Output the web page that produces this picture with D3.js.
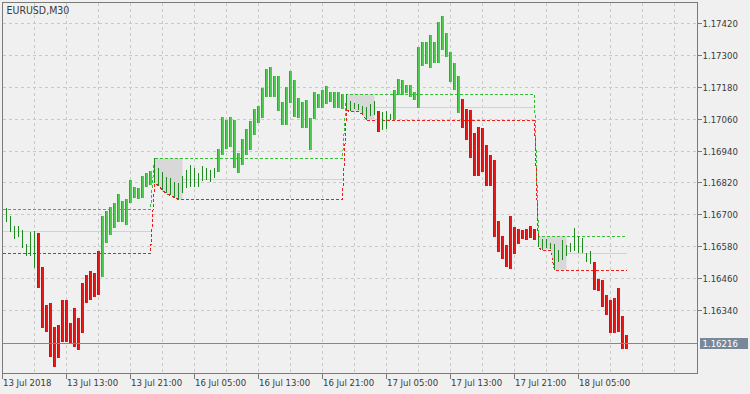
<!DOCTYPE html>
<html><head><meta charset="utf-8">
<script src="https://cdn.jsdelivr.net/npm/d3@7"></script>
<style>html,body{margin:0;padding:0;background:#f0f0f0;}svg{display:block;}</style>
</head><body><svg id="c" width="750" height="394"></svg>
<script>
const title = "EURUSD,M30";
const firstBar = 1;
const highs = [1.16725,1.16694,1.16657,1.16657,1.16640,1.16587,1.16634,1.16637,1.16628,1.16502,
1.16358,1.16364,1.16276,1.16282,1.16377,1.16377,1.16289,1.16345,1.16308,1.16440,
1.16471,1.16486,1.16477,1.16561,1.16693,1.16712,1.16728,1.16741,1.16775,1.16750,
1.16756,1.16829,1.16804,1.16798,1.16844,1.16857,1.16864,1.16911,1.16873,1.16860,
1.16842,1.16836,1.16823,1.16817,1.16844,1.16867,1.16886,1.16873,1.16854,1.16882,
1.16873,1.16867,1.16873,1.16946,1.17068,1.17055,1.17068,1.17055,1.16930,1.16984,
1.17021,1.17053,1.17097,1.17108,1.17175,1.17249,1.17254,1.17223,1.17220,1.17124,
1.17178,1.17242,1.17206,1.17137,1.17125,1.17131,1.17062,1.17162,1.17153,1.17169,
1.17184,1.17162,1.17162,1.17162,1.17153,1.17152,1.17127,1.17118,1.17117,1.17110,
1.17106,1.17116,1.17127,1.17089,1.17087,1.17091,1.17078,1.17169,1.17211,1.17208,
1.17187,1.17187,1.17161,1.17332,1.17351,1.17348,1.17376,1.17351,1.17426,1.17448,
1.17382,1.17313,1.17269,1.17220,1.17133,1.17095,1.17093,1.17005,1.17029,1.17025,
1.16960,1.16923,1.16904,1.16676,1.16618,1.16584,1.16693,1.16653,1.16646,1.16642,
1.16644,1.16657,1.16646,1.16617,1.16608,1.16608,1.16593,1.16589,1.16564,1.16602,
1.16584,1.16591,1.16649,1.16618,1.16609,1.16555,1.16562,1.16520,1.16457,1.16452,
1.16397,1.16375,1.16385,1.16420,1.16316,1.16243];
const lows = [1.16672,1.16634,1.16605,1.16615,1.16571,1.16544,1.16544,1.16496,1.16421,1.16270,
1.16257,1.16163,1.16125,1.16157,1.16219,1.16219,1.16213,1.16200,1.16188,1.16251,
1.16364,1.16377,1.16389,1.16395,1.16464,1.16590,1.16622,1.16647,1.16672,1.16672,
1.16659,1.16741,1.16760,1.16756,1.16760,1.16804,1.16810,1.16817,1.16810,1.16791,
1.16779,1.16773,1.16766,1.16756,1.16779,1.16798,1.16804,1.16804,1.16804,1.16825,
1.16829,1.16822,1.16836,1.16860,1.16923,1.16946,1.16952,1.16873,1.16854,1.16886,
1.16922,1.16942,1.16999,1.17043,1.17062,1.17143,1.17143,1.17143,1.17089,1.17036,
1.17036,1.17119,1.17065,1.17062,1.17027,1.17025,1.16942,1.17059,1.17101,1.17100,
1.17114,1.17124,1.17100,1.17102,1.17097,1.17093,1.17089,1.17097,1.17093,1.17078,
1.17057,1.17070,1.17074,1.17011,1.17018,1.17021,1.17055,1.17055,1.17150,1.17150,
1.17156,1.17143,1.17131,1.17102,1.17259,1.17267,1.17250,1.17270,1.17269,1.17319,
1.17294,1.17200,1.17169,1.17081,1.17024,1.16980,1.16911,1.16844,1.16844,1.16859,
1.16806,1.16806,1.16615,1.16559,1.16532,1.16502,1.16495,1.16550,1.16588,1.16607,
1.16603,1.16610,1.16603,1.16576,1.16567,1.16573,1.16570,1.16490,1.16520,1.16526,
1.16542,1.16558,1.16561,1.16552,1.16555,1.16518,1.16514,1.16413,1.16410,1.16350,
1.16319,1.16253,1.16251,1.16256,1.16193,1.16193];
// trend state per bar: n = neutral, g = up, r = down
const trendRuns = [["n",8],["r",16],["g",13],["n",16],["g",32],["n",8],["r",1],["n",3],["g",17],["r",19],["n",14],["r",9]];
const boxStarts = [38, 86, 134];
const boxLength = 8;
const prevUpper = 1.16720, prevLower = 1.16554;
const lastPrice = 1.16216;
const yTicks = [1.17420,1.17300,1.17180,1.17060,1.16940,1.16820,1.16700,1.16580,1.16460,1.16340];
const xTickIdx = [0,16,32,48,64,80,96,112,128,144];
const xTickLabels = ["13 Jul 2018","13 Jul 13:00","13 Jul 21:00","16 Jul 05:00","16 Jul 13:00","16 Jul 21:00","17 Jul 05:00","17 Jul 13:00","17 Jul 21:00","18 Jul 05:00"];

const trend = trendRuns.flatMap(([s,n]) => Array(n).fill(s));
const bars = highs.map((h,k) => ({i: firstBar+k, h, l: lows[k], s: trend[k]}));
const lastIdx = firstBar + highs.length - 1;

const svg = d3.select("#c");
const P = {l:2.5, r:697.5, t:2.5, b:373.5};
const x = d3.scaleLinear().domain([0,1]).range([2.5,6.5]);
const y = d3.scaleLinear().domain([1.16340,1.17420]).range([309.7,23.3]);
const font = "'DejaVu Sans Condensed','DejaVu Sans',sans-serif";

svg.append("rect").attr("width",750).attr("height",394).attr("fill","#f0f0f0");
svg.append("defs").append("clipPath").attr("id","clip").append("rect")
  .attr("x",P.l+0.5).attr("y",P.t+0.5).attr("width",P.r-P.l-1).attr("height",P.b-P.t-1);

// grid
const grid = svg.append("g").attr("stroke","#c9c9c9").attr("stroke-dasharray","3,3").attr("shape-rendering","crispEdges");
yTicks.forEach(v => { const yy = Math.round(y(v))+0.5;
  grid.append("line").attr("x1",P.l).attr("x2",P.r).attr("y1",yy).attr("y2",yy); });
d3.range(8,176,8).forEach(i => { const xx = Math.floor(x(i))+0.5;
  if (xx < P.r) grid.append("line").attr("x1",xx).attr("x2",xx).attr("y1",P.t).attr("y2",P.b); });

const g = svg.append("g").attr("clip-path","url(#clip)");

// indicator levels
const hi = new Map(bars.map(b=>[b.i,b.h])), lo = new Map(bars.map(b=>[b.i,b.l]));
const level = [];
for (let i=0;i<=lastIdx;i++){
  let s = -1; boxStarts.forEach((b,k)=>{ if (i>=b) s=k; });
  if (s<0){ level.push({i,u:prevUpper,d:prevLower}); continue; }
  const b = boxStarts[s], e = Math.min(i, b+boxLength-1);
  const idx = d3.range(b, e+1);
  level.push({i, u:d3.max(idx,j=>hi.get(j)), d:d3.min(idx,j=>lo.get(j)), s});
}
// gray boxes
boxStarts.forEach(b => {
  const pts = level.filter(p => p.i>=b && p.i<=b+boxLength-1);
  const area = d3.area().x(p=>x(p.i)).y0(p=>y(p.d)).y1(p=>y(p.u));
  g.append("path").attr("d",area(pts)).attr("fill","#d8d8d8");
});
// mid lines
const segs = [[0,boxStarts[0]-1]].concat(boxStarts.map((b,k)=>[b+boxLength-1, k<boxStarts.length-1?boxStarts[k+1]-1:lastIdx]));
segs.forEach(([a,c]) => {
  const p = level[c]; const m = (p.u+p.d)/2;
  g.append("line").attr("x1",x(a)).attr("x2",x(c)).attr("y1",Math.round(y(m))+0.5).attr("y2",Math.round(y(m))+0.5)
   .attr("stroke","#d2d2d2").attr("shape-rendering","crispEdges");
});
const lineU = d3.line().x(p=>x(p.i)).y(p=>Math.round(y(p.u))+0.5);
const lineD = d3.line().x(p=>x(p.i)).y(p=>Math.round(y(p.d))+0.5);
g.append("path").attr("d",lineU(level)).attr("fill","none").attr("stroke","#33c033").attr("stroke-dasharray","3,2").attr("shape-rendering","crispEdges");
g.append("path").attr("d",lineD(level)).attr("fill","none").attr("stroke","#f01c1c").attr("stroke-dasharray","3,2").attr("shape-rendering","crispEdges");

// bars
const colors = {g:"#4ccc4c", r:"#e81818"};
const edge = {g:"#2fa82f", r:"#c41010", n:"#1f8a1f"};
bars.forEach(b => {
  const xc = Math.floor(x(b.i)); const y1 = Math.round(y(b.h)), y2 = Math.round(y(b.l));
  if (b.s !== "n") {
    g.append("rect").attr("x",xc-1).attr("width",3).attr("y",y1).attr("height",Math.max(1,y2-y1)).attr("fill",colors[b.s]);
    g.append("rect").attr("x",xc-1).attr("width",1).attr("y",y1).attr("height",Math.max(1,y2-y1)).attr("fill",edge[b.s]);
  } else {
    g.append("rect").attr("x",xc).attr("width",1).attr("y",y1).attr("height",Math.max(1,y2-y1)).attr("fill",edge.n);
  }
});

// price line
const py = Math.round(y(lastPrice))+0.5;
svg.append("line").attr("x1",P.l).attr("x2",P.r).attr("y1",py).attr("y2",py).attr("stroke","#7a8a99").attr("shape-rendering","crispEdges");

// border
svg.append("rect").attr("x",P.l).attr("y",P.t).attr("width",P.r-P.l).attr("height",P.b-P.t)
  .attr("fill","none").attr("stroke","#7a7a7a").attr("shape-rendering","crispEdges");

// right axis
yTicks.forEach(v => { const yy = Math.round(y(v))+0.5;
  svg.append("line").attr("x1",P.r).attr("x2",P.r+4).attr("y1",yy).attr("y2",yy).attr("stroke","#7a7a7a").attr("shape-rendering","crispEdges");
  svg.append("text").attr("x",702.5).attr("y",yy+3.5).text(v.toFixed(5)).attr("font-family",font).attr("font-size",9.5).attr("fill","#3a3a3a");
});
svg.append("rect").attr("x",700).attr("y",py-5.5).attr("width",48).attr("height",11).attr("fill","#778899");
svg.append("text").attr("x",702.5).attr("y",py+3.5).text(lastPrice.toFixed(5)).attr("font-family",font).attr("font-size",9.5).attr("fill","#ffffff");

// bottom axis
xTickIdx.forEach((i,k) => { const xx = Math.floor(x(i))+0.5;
  svg.append("line").attr("x1",xx).attr("x2",xx).attr("y1",P.b).attr("y2",P.b+5).attr("stroke","#7a7a7a").attr("shape-rendering","crispEdges");
  svg.append("text").attr("x",xx+0.5).attr("y",386).text(xTickLabels[k]).attr("font-family",font).attr("font-size",9.5).attr("fill","#3a3a3a");
});

svg.append("text").attr("x",6.5).attr("y",13.5).text(title).attr("font-family",font).attr("font-size",10.5).attr("fill","#3a3a3a");
</script></body></html>
